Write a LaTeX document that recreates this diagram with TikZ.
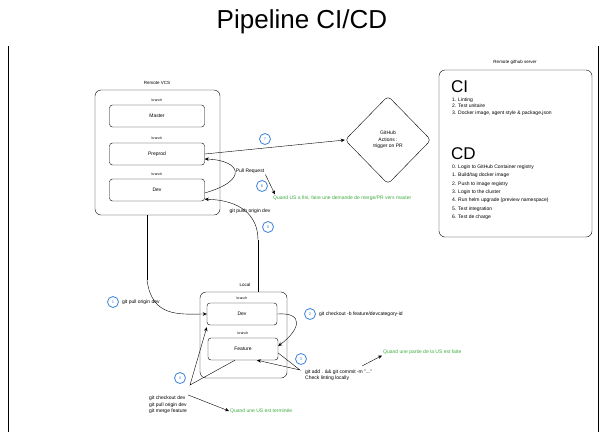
\documentclass[tikz,border=0pt]{standalone}
\usepackage{fontspec}
\setmainfont{Liberation Sans}
\usetikzlibrary{shapes.geometric, arrows.meta, positioning}
\definecolor{notegreen}{RGB}{60,170,60}
\definecolor{stepblue}{RGB}{60,130,220}
\tikzset{
    myarrow/.style={-{Stealth[length=4pt,width=3.5pt]}},
    branchbox/.style={draw, rounded corners=3pt, font=\fontsize{5}{6}\selectfont, minimum width=70pt, minimum height=22pt, align=center},
    groupbox/.style={draw, rounded corners=6pt},
    tag/.style={font=\fontsize{3.5}{4}\selectfont},
    note/.style={font=\fontsize{5}{6.5}\selectfont, align=left, inner sep=1pt},
    greennote/.style={note, text=notegreen},
    stepnum/.style={draw=stepblue, circle, thick, minimum size=11pt, inner sep=0pt, font=\fontsize{4}{5}\selectfont, text=stepblue}
}

\begin{document}
\begin{tikzpicture}[x=1pt, y=-1pt]
    \useasboundingbox (0,0) rectangle (604,432);
    \draw (8,46) -- (8,432);
    \draw (598,46) -- (598,432);
    \node (title) at (302,22) {\fontsize{26}{28}\selectfont Pipeline CI/CD};

    % remote repository
    \draw[groupbox] (95,90) rectangle (220,215);
    \node (remotelbl) at (157,83) [tag, font=\fontsize{4.5}{5}\selectfont] {Remote VCS};
    \node (master) at (157,116) [branchbox, minimum width=95pt] {Master};
    \node (preprod) at (157,154) [branchbox, minimum width=95pt] {Preprod};
    \node (dev) at (157,190) [branchbox, minimum width=95pt] {Dev};
    \node [tag, above=0pt of master] {branch};
    \node [tag, above=0pt of preprod] {branch};
    \node [tag, above=0pt of dev] {branch};

    % github actions
    \node (actions) at (388,140) [draw, diamond, rounded corners=4pt, minimum width=86pt, minimum height=88pt, inner sep=0pt, align=center, font=\fontsize{5}{6.5}\selectfont] {GitHub\\Actions :\\trigger on PR};

    % remote github server
    \draw[groupbox] (439,70) rectangle (592,237);
    \node (serverlbl) at (515,62) [tag, font=\fontsize{4.5}{5}\selectfont] {Remote github server};
    \node (ci) at (451,80) [anchor=north west, inner sep=0pt, font=\fontsize{17}{18}\selectfont] {CI};
    \node (cilist) [below=4pt of ci.south west, anchor=north west, note] {1. Linting\\2. Test unitaire\\3. Docker image, agent style \& package.json};
    \node (cd) at (451,147) [anchor=north west, inner sep=0pt, font=\fontsize{17}{18}\selectfont] {CD};
    \node (cdlist) [below=4pt of cd.south west, anchor=north west, note, font=\fontsize{5}{8.4}\selectfont] {0. Login to GitHub Container registry\\1. Build/tag docker image\\2. Push to image registry\\3. Login to the cluster\\4. Run helm upgrade (preview namespace)\\5. Test integration\\6. Test de charge};

    % local repository
    \draw[groupbox] (200,292) rectangle (287,378);
    \node (locallbl) at (245,285) [tag, font=\fontsize{4.5}{5}\selectfont] {Local};
    \node (ldev) at (242,314) [branchbox] {Dev};
    \node (feat) at (243,349) [branchbox] {Feature};
    \node [tag, above=0pt of ldev] {branch};
    \node [tag, above=0pt of feat] {branch};

    % steps
    \node (s1) at (113,302) [stepnum] {1};
    \node (pull) [right=2pt of s1, note] {git pull origin dev};
    \node (s2) at (310,314) [stepnum] {2};
    \node (checkout) [right=2pt of s2, note] {git checkout -b feature/devcategory-id};
    \node (s3) at (301,359) [stepnum] {3};
    \node (commit) at (304,375) [anchor=west, note] {git add . \&\& git commit -m "..."\\Check linting locally};
    \node (s4) at (180,378) [stepnum] {4};
    \node (merge) at (148,405) [anchor=west, note] {git checkout dev\\git pull origin dev\\git merge feature};
    \node (s5) at (268,227) [stepnum] {5};
    \node (push) at (250,211) [note] {git push origin dev};
    \node (s6) at (262,186) [stepnum] {6};
    \node (pr) at (250,171) [note] {Pull Request};
    \node (s7) at (265,139) [stepnum] {7};

    % green notes
    \node (prnote) at (272,198) [anchor=west, greennote] {Quand US a fini, faire une demande de merge/PR vers master};
    \node (partnote) at (382,352) [anchor=west, greennote] {Quand une partie de la US est faite};
    \node (donenote) at (229,411) [anchor=west, greennote] {Quand une US est terminée};

    \coordinate (pullbend) at (147,280);
    \coordinate (pushbend) at (258,240);
    \coordinate (commitbend) at (300,370);
    \coordinate (mergebend) at (190,385);

    \draw [myarrow] (preprod.east) -- (actions.west);
    \draw [myarrow] ([yshift=-3pt]dev.east) .. controls (250,180) and (240,160) .. ([yshift=-5pt]preprod.east);
    \draw [myarrow] (pr.south east) -- ([xshift=3pt]prnote.north west);
    \draw (pushbend) -- (258,292);
    \draw [myarrow] (pushbend) .. controls (258,215) and (240,200) .. ([yshift=2pt]dev.south east);
    \draw (147,215) -- (pullbend);
    \draw [myarrow] (pullbend) .. controls (152,318) and (180,314) .. (ldev.west);
    \draw [myarrow] (ldev.east) .. controls (305,312) and (300,330) .. ([yshift=3pt]feat.east);
    \draw [myarrow] ([yshift=-4pt]feat.east) -- (commitbend) -- ([xshift=14pt]feat.south);
    \draw [myarrow] (362,366) -- (partnote.south west);
    \draw [myarrow] ([xshift=-8pt]feat.south) -- (mergebend) -- ([yshift=-2pt]ldev.south west);
    \draw [myarrow] (merge.north east) -- (donenote.west);
\end{tikzpicture}
\end{document}
